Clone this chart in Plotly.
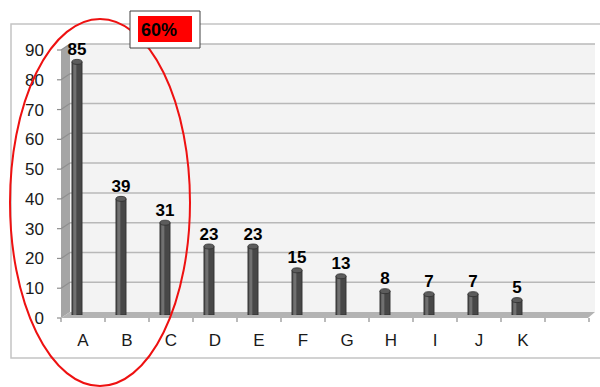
import plotly.graph_objects as go

# Category counts
CATEGORIES = ["A", "B", "C", "D", "E", "F", "G", "H", "I", "J", "K"]
COUNTS = [85, 39, 31, 23, 23, 15, 13, 8, 7, 7, 5]
Y_TICKS = [0, 10, 20, 30, 40, 50, 60, 70, 80, 90]
CALLOUT_TEXT = "60%"

FONT = "Arial, Liberation Sans, sans-serif"

# Plot-area geometry in pixels (bar plane)
W, H = 600, 387
L, R, T, B = 55, 583, 47, 315
Y_MAX = 90
SCALE = (B - T) / Y_MAX
SLOT = (R - L) / 12

# 3D frame offsets (pixels)
FRONT_X0, BACK_X0 = 61, 70
BACK_X1, FRONT_X1 = 595, 588
FRONT_DY, BACK_DY = 3, -3


def px(x):
    return (x - L) / (R - L)


def py(y):
    return (B - y) / (B - T)


def front_y(v):
    return B + FRONT_DY - v * SCALE


def back_y(v):
    return B + BACK_DY - v * SCALE


fig = go.Figure()

# Cylinder body
fig.add_bar(
    x=CATEGORIES, y=COUNTS, width=0.23, offset=-0.115,
    marker=dict(color="#474747", line=dict(color="#2e2e2e", width=0.8)),
    texttemplate="<b>%{y}</b>", textposition="outside",
    textfont=dict(family=FONT, size=17, color="black"),
    constraintext="none", cliponaxis=False, hoverinfo="skip",
)
# Highlight strip on the cylinder
fig.add_bar(
    x=CATEGORIES, y=COUNTS, width=0.07, offset=-0.085,
    marker=dict(color="#707070", line=dict(width=0)),
    hoverinfo="skip",
)

shapes = []

# Outer chart frame
shapes.append(dict(type="rect", xref="paper", yref="paper",
                   x0=px(11), x1=px(640), y0=py(358), y1=py(24),
                   line=dict(color="#c4c4c4", width=1.5), layer="below"))
# Back wall
shapes.append(dict(type="rect", xref="paper", yref="paper",
                   x0=px(BACK_X0), x1=px(BACK_X1), y0=py(back_y(0)), y1=py(back_y(Y_MAX)),
                   fillcolor="#f3f3f3", line=dict(width=0), layer="below"))
# Left wall
shapes.append(dict(type="path", xref="paper", yref="paper",
                   path=(f"M {px(FRONT_X0)},{py(front_y(Y_MAX))} L {px(BACK_X0)},{py(back_y(Y_MAX))} "
                         f"L {px(BACK_X0)},{py(back_y(0))} L {px(FRONT_X0)},{py(front_y(0))} Z"),
                   fillcolor="#a5a5a5", line=dict(width=0), layer="below"))
# Floor
shapes.append(dict(type="path", xref="paper", yref="paper",
                   path=(f"M {px(FRONT_X0)},{py(front_y(0))} L {px(BACK_X0)},{py(back_y(0))} "
                         f"L {px(BACK_X1)},{py(back_y(0))} L {px(FRONT_X1)},{py(front_y(0))} Z"),
                   fillcolor="#b3b3b3", line=dict(width=0), layer="below"))

# Gridlines on back and side walls, with y tick marks
for v in Y_TICKS[1:]:
    shapes.append(dict(type="line", xref="paper", yref="paper",
                       x0=px(BACK_X0), x1=px(BACK_X1), y0=py(back_y(v)), y1=py(back_y(v)),
                       line=dict(color="#b8b8b8", width=1.5), layer="below"))
    shapes.append(dict(type="line", xref="paper", yref="paper",
                       x0=px(FRONT_X0), x1=px(BACK_X0), y0=py(front_y(v)), y1=py(back_y(v)),
                       line=dict(color="#8e8e8e", width=1.2), layer="below"))
for v in Y_TICKS:
    shapes.append(dict(type="line", xref="paper", yref="paper",
                       x0=px(57), x1=px(FRONT_X0), y0=py(front_y(v)), y1=py(front_y(v)),
                       line=dict(color="#8e8e8e", width=1.2), layer="below"))

# Category tick marks along the front floor edge
for k in range(13):
    xk = FRONT_X0 + k * SLOT
    shapes.append(dict(type="line", xref="paper", yref="paper",
                       x0=px(xk), x1=px(xk), y0=py(front_y(0)), y1=py(front_y(0) + 4),
                       line=dict(color="#8e8e8e", width=1.2), layer="below"))

# Cylinder caps
for i, v in enumerate(COUNTS):
    shapes.append(dict(type="circle", xref="x", yref="y",
                       x0=i - 0.115, x1=i + 0.115,
                       ysizemode="pixel", yanchor=v, y0=-2.5, y1=2.5,
                       fillcolor="#5c5c5c", line=dict(color="#2e2e2e", width=0.8)))

# Highlight ellipse around the leading categories
shapes.append(dict(type="circle", xref="paper", yref="paper",
                   x0=px(10), x1=px(190), y0=py(386), y1=py(19),
                   line=dict(color="#ee1111", width=2)))
# Callout box
shapes.append(dict(type="rect", xref="paper", yref="paper",
                   x0=px(130), x1=px(200), y0=py(48), y1=py(11),
                   fillcolor="white", line=dict(color="#404040", width=1)))
shapes.append(dict(type="rect", xref="paper", yref="paper",
                   x0=px(138), x1=px(192), y0=py(42), y1=py(16),
                   fillcolor="#ff0000", line=dict(width=0)))

fig.update_layout(
    width=W, height=H,
    margin=dict(l=L, r=W - R, t=T, b=H - B, autoexpand=False),
    paper_bgcolor="white", plot_bgcolor="rgba(0,0,0,0)",
    barmode="overlay", showlegend=False,
    shapes=shapes,
    annotations=[dict(xref="paper", yref="paper", x=px(139), y=py(30),
                      xanchor="left", yanchor="middle", showarrow=False,
                      text=f"<b>{CALLOUT_TEXT}</b>",
                      font=dict(family=FONT, size=18, color="black"))],
    font=dict(family=FONT, color="#1a1a1a"),
)
fig.update_xaxes(
    range=[-0.5, 11.5], showgrid=False, zeroline=False, showline=False,
    ticks="", tickfont=dict(size=17, color="#1a1a1a"),
    ticklabelshift=6, ticklabelstandoff=13,
)
fig.update_yaxes(
    range=[0, Y_MAX], tickvals=Y_TICKS, showgrid=False, zeroline=False,
    showline=False, ticks="", tickfont=dict(size=17, color="#1a1a1a"),
    ticklabelshift=3, ticklabelstandoff=10,
)

fig.write_html("out.html")
